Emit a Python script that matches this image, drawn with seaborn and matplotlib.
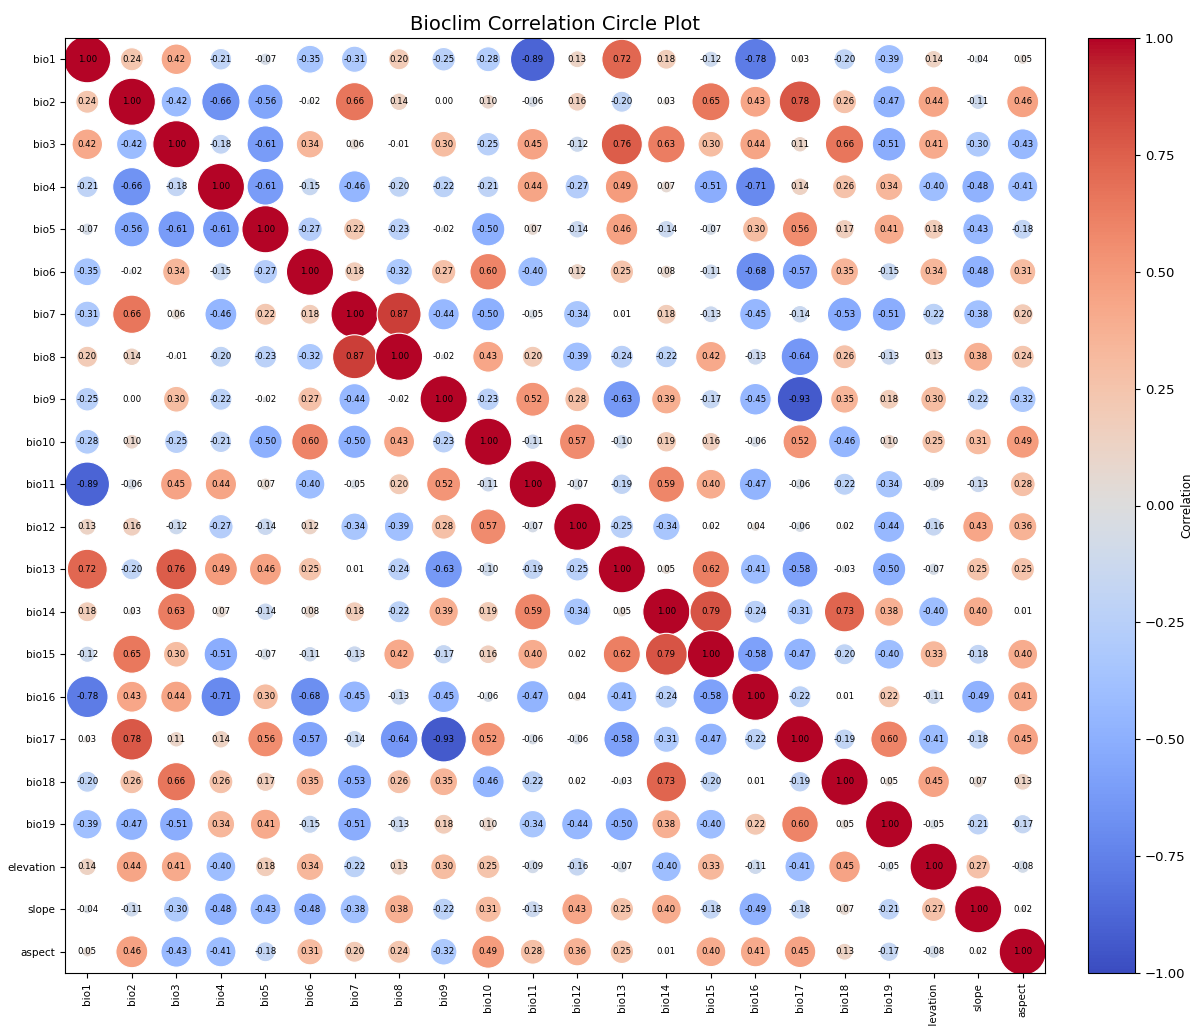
import numpy as np
import pandas as pd
import matplotlib
matplotlib.use("Agg")
import matplotlib.pyplot as plt
import seaborn as sns

# ---------------------------------------------------
# Datos
# ---------------------------------------------------
labels = ['bio1', 'bio2', 'bio3', 'bio4', 'bio5', 'bio6', 'bio7', 'bio8', 'bio9',
          'bio10', 'bio11', 'bio12', 'bio13', 'bio14', 'bio15', 'bio16', 'bio17',
          'bio18', 'bio19', 'elevation', 'slope', 'aspect']

# triangulo inferior (sin diagonal), fila i tiene i valores
lower = [
    [],
    [0.24],
    [0.42, -0.42],
    [-0.21, -0.66, -0.18],
    [-0.07, -0.56, -0.61, -0.61],
    [-0.35, -0.02, 0.34, -0.15, -0.27],
    [-0.31, 0.66, 0.06, -0.46, 0.22, 0.18],
    [0.20, 0.14, -0.01, -0.20, -0.23, -0.32, 0.87],
    [-0.25, 0.00, 0.30, -0.22, -0.02, 0.27, -0.44, -0.02],
    [-0.28, 0.10, -0.25, -0.21, -0.50, 0.60, -0.50, 0.43, -0.23],
    [-0.89, -0.06, 0.45, 0.44, 0.07, -0.40, -0.05, 0.20, 0.52, -0.11],
    [0.13, 0.16, -0.12, -0.27, -0.14, 0.12, -0.34, -0.39, 0.28, 0.57, -0.07],
    [0.72, -0.20, 0.76, 0.49, 0.46, 0.25, 0.01, -0.24, -0.63, -0.10, -0.19, -0.25],
    [0.18, 0.03, 0.63, 0.07, -0.14, 0.08, 0.18, -0.22, 0.39, 0.19, 0.59, -0.34, 0.05],
    [-0.12, 0.65, 0.30, -0.51, -0.07, -0.11, -0.13, 0.42, -0.17, 0.16, 0.40, 0.02, 0.62, 0.79],
    [-0.78, 0.43, 0.44, -0.71, 0.30, -0.68, -0.45, -0.13, -0.45, -0.06, -0.47, 0.04, -0.41, -0.24, -0.58],
    [0.03, 0.78, 0.11, 0.14, 0.56, -0.57, -0.14, -0.64, -0.93, 0.52, -0.06, -0.06, -0.58, -0.31, -0.47, -0.22],
    [-0.20, 0.26, 0.66, 0.26, 0.17, 0.35, -0.53, 0.26, 0.35, -0.46, -0.22, 0.02, -0.03, 0.73, -0.20, 0.01, -0.19],
    [-0.39, -0.47, -0.51, 0.34, 0.41, -0.15, -0.51, -0.13, 0.18, 0.10, -0.34, -0.44, -0.50, 0.38, -0.40, 0.22, 0.60, 0.05],
    [0.14, 0.44, 0.41, -0.40, 0.18, 0.34, -0.22, 0.13, 0.30, 0.25, -0.09, -0.16, -0.07, -0.40, 0.33, -0.11, -0.41, 0.45, -0.05],
    [-0.04, -0.11, -0.30, -0.48, -0.43, -0.48, -0.38, 0.38, -0.22, 0.31, -0.13, 0.43, 0.25, 0.40, -0.18, -0.49, -0.18, 0.07, -0.21, 0.27],
    [0.05, 0.46, -0.43, -0.41, -0.18, 0.31, 0.20, 0.24, -0.32, 0.49, 0.28, 0.36, 0.25, 0.01, 0.40, 0.41, 0.45, 0.13, -0.17, -0.08, 0.02],
]
# ---------------------------------------------------


def build_matrix():
    n = len(labels)
    m = np.eye(n)
    for i, row in enumerate(lower):
        for j, v in enumerate(row):
            m[i, j] = v
            m[j, i] = v
    return pd.DataFrame(m, index=labels, columns=labels)


def main():
    corr = build_matrix()
    n = len(labels)

    # formato largo para el scatter
    df = corr.reset_index(names='row').melt(id_vars='row', var_name='col', value_name='r')
    df['x'] = df['col'].map({l: i for i, l in enumerate(labels)})
    df['y'] = df['row'].map({l: i for i, l in enumerate(labels)})
    df['abs_r'] = df['r'].abs()

    fig = plt.figure(figsize=(11.96, 10.26), dpi=100)
    ax = fig.add_axes([65 / 1196, 53 / 1026, 980 / 1196, 935 / 1026])
    cax = fig.add_axes([1088 / 1196, 53 / 1026, 47 / 1196, 935 / 1026])

    sns.scatterplot(data=df, x='x', y='y', hue='r', palette='coolwarm', hue_norm=(-1, 1),
                    size='abs_r', sizes=(0, 1150), size_norm=(0, 1),
                    edgecolor='w', linewidth=0.8, legend=False, ax=ax)

    # valores dentro de cada circulo
    for _, row in df.iterrows():
        ax.text(row['x'], row['y'], f"{row['r']:.2f}", ha='center', va='center',
                fontsize=6.2, color='black')

    ax.set_xlim(-0.5, n - 0.5)
    ax.set_ylim(n - 0.5, -0.5)
    ax.set_xticks(range(n))
    ax.set_xticklabels(labels, rotation=90, fontsize=7.5)
    ax.set_yticks(range(n))
    ax.set_yticklabels(labels, fontsize=7.5)
    ax.set_xlabel('')
    ax.set_ylabel('')
    ax.set_title('Bioclim Correlation Circle Plot', fontsize=14)

    sm = plt.cm.ScalarMappable(cmap='coolwarm', norm=plt.Normalize(-1, 1))
    cb = fig.colorbar(sm, cax=cax)
    cb.set_ticks([-1, -0.75, -0.5, -0.25, 0, 0.25, 0.5, 0.75, 1])
    cb.ax.tick_params(labelsize=9.5)
    cb.set_label('Correlation', fontsize=8.5)
    cb.ax.yaxis.label.set_verticalalignment('center')
    cb.ax.yaxis.label.set_horizontalalignment('center')
    cb.ax.yaxis.set_label_coords(2.1, 0.5)

    fig.savefig('out.png', dpi=100)


if __name__ == "__main__":
    main()
